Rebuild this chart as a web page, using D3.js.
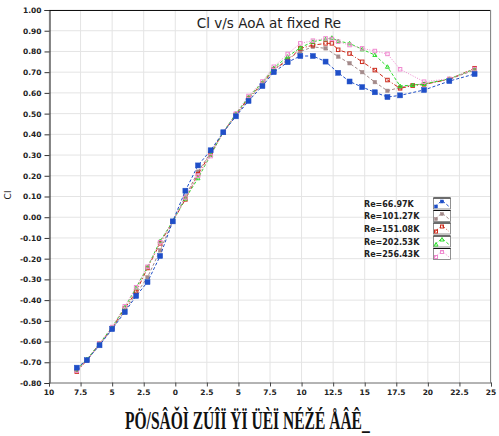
<!DOCTYPE html>
<html><head><meta charset="utf-8">
<script src="https://cdn.jsdelivr.net/npm/d3@7"></script>
<style>body{margin:0;background:#fff}svg{display:block}</style>
</head><body>
<script>
const aoa = [-7.8,-7.0,-6.0,-5.0,-4.0,-3.1,-2.2,-1.2,-0.2,0.8,1.8,2.8,3.8,4.8,5.8,6.9,7.8,8.9,9.9,10.9,11.9,12.4,12.9,13.8,14.8,15.8,16.8,17.8,18.8,19.7,21.7,23.7];
const clRe66  = [-0.726,-0.69,-0.618,-0.54,-0.458,-0.38,-0.313,-0.187,-0.02,0.128,0.25,0.323,0.41,0.487,0.561,0.633,0.70,0.748,0.778,0.778,0.751,null,0.697,0.655,0.628,0.603,0.58,0.588,null,0.614,0.657,0.691];
const clRe101 = [-0.74,-0.69,-0.615,-0.54,-0.45,-0.37,-0.29,-0.16,-0.02,0.10,0.22,0.31,0.41,0.49,0.57,0.64,0.71,0.765,0.80,0.822,0.815,null,0.775,0.743,0.70,0.652,0.61,0.626,0.638,0.643,0.666,0.71];
const clRe151 = [-0.745,-0.69,-0.61,-0.535,-0.44,-0.36,-0.245,-0.126,-0.02,0.086,0.208,0.308,0.41,0.495,0.575,0.645,0.714,0.755,0.815,0.83,0.839,0.839,0.808,0.79,0.75,0.71,0.662,0.622,0.635,0.641,0.665,0.719];
const clRe202 = [-0.735,-0.685,-0.61,-0.53,-0.435,-0.34,-0.24,-0.115,-0.02,0.09,0.188,0.30,0.41,0.50,0.58,0.65,0.72,0.775,0.818,0.847,0.859,0.866,0.85,0.839,0.81,0.783,0.726,0.633,0.638,0.643,0.668,0.715];
const clRe256 = [-0.74,-0.69,-0.61,-0.53,-0.43,-0.338,-0.239,-0.12,-0.02,0.095,0.20,0.295,0.41,0.50,0.585,0.655,0.726,0.788,0.839,0.852,0.863,0.86,0.847,0.831,0.815,0.802,0.788,0.714,null,0.654,0.668,0.715];
const seriesNames = ["Re=66.97K","Re=101.27K","Re=151.08K","Re=202.53K","Re=256.43K"];
const xTickValues = [-10,-7.5,-5,-2.5,0,2.5,5,7.5,10,12.5,15,17.5,20,22.5,25];
const xTickLabels = ["10","7.5","5","2.5","0","2.5","5","7.5","10","12.5","15","17.5","20","22.5","25"];
const yTickValues = [1.0,0.9,0.8,0.7,0.6,0.5,0.4,0.3,0.2,0.1,0.0,-0.1,-0.2,-0.3,-0.4,-0.5,-0.6,-0.7,-0.8];

const styles = [
  {color:"#1f4fc8", dash:"3,2", marker:"square", fill:true, size:5},
  {color:"#a38a8a", dash:"3,2", marker:"square", fill:true, size:3.5},
  {color:"#cc2a1c", dash:"4,2,1,2", marker:"square", fill:false, size:3.5},
  {color:"#2ddc2d", dash:"3,2", marker:"triangle", fill:false, size:3},
  {color:"#f08ad0", dash:"1,1.5", marker:"square", fill:false, size:3.5}
];
const allCl = [clRe66, clRe101, clRe151, clRe202, clRe256];

const W = 499, H = 436;
const svg = d3.select("body").append("svg").attr("width", W).attr("height", H);
const x = d3.scaleLinear().domain([-10, 25]).range([49, 491]);
const y = d3.scaleLinear().domain([-0.8, 1.0]).range([383, 10]);

// grid
const g = svg.append("g");
g.selectAll(".vg").data(xTickValues).join("line")
  .attr("x1", d => x(d)).attr("x2", d => x(d)).attr("y1", y(1)).attr("y2", y(-0.8))
  .attr("stroke", "#e4e4e4").attr("stroke-width", 1);
g.selectAll(".hg").data(yTickValues).join("line")
  .attr("x1", x(-10)).attr("x2", x(25)).attr("y1", d => y(d)).attr("y2", d => y(d))
  .attr("stroke", "#e4e4e4").attr("stroke-width", 1);

// frame
svg.append("line").attr("x1", x(-10)).attr("x2", x(25)).attr("y1", y(1)+0.5).attr("y2", y(1)+0.5).attr("stroke", "#111");
svg.append("line").attr("x1", x(25)-0.5).attr("x2", x(25)-0.5).attr("y1", y(1)).attr("y2", y(-0.8)).attr("stroke", "#888");

// axes
const yAxis = d3.axisLeft(y).tickValues(yTickValues).tickSize(5).tickPadding(3)
  .tickFormat(d => d3.format(".2f")(d).replace("−","-"));
const ya = svg.append("g").attr("transform", `translate(${x(-10)+0.5},0)`).call(yAxis);
ya.select(".domain").attr("stroke", "#111");
ya.selectAll(".tick line").attr("stroke", "#333");
ya.selectAll("text").attr("font-family", "DejaVu Sans").attr("font-weight", "bold").attr("font-size", 7.5).attr("fill", "#222");

const xAxis = d3.axisBottom(x).tickValues(xTickValues).tickSize(4).tickFormat("");
const xa = svg.append("g").attr("transform", `translate(0,${y(-0.8)-0.5})`).call(xAxis);
xa.select(".domain").attr("stroke", "#777");
xa.selectAll(".tick line").attr("stroke", "#444");
svg.append("g").selectAll("text").data(xTickValues).join("text")
  .attr("x", d => x(d)).attr("y", 395).attr("text-anchor", "middle")
  .attr("font-family", "DejaVu Sans").attr("font-weight", "bold").attr("font-size", 7.5).attr("fill", "#222")
  .text((d, i) => xTickLabels[i]);

// series
function drawMarker(sel, st, px, py) {
  const s = st.size;
  if (st.marker === "square") {
    sel.append("rect").attr("x", px - s/2).attr("y", py - s/2).attr("width", s).attr("height", s)
      .attr("fill", st.fill ? st.color : "none").attr("stroke", st.color).attr("stroke-width", st.fill ? 0.5 : 1);
  } else {
    sel.append("path").attr("d", `M${px},${py-s/2-0.5}L${px+s/2+0.5},${py+s/2}L${px-s/2-0.5},${py+s/2}Z`)
      .attr("fill", "none").attr("stroke", st.color).attr("stroke-width", 1);
  }
}
const line = d3.line().x(d => x(d[0])).y(d => y(d[1]));
[1,2,3,4,0].forEach(si => {
  const st = styles[si];
  const pts = aoa.map((a, i) => [a, allCl[si][i]]).filter(p => p[1] !== null);
  const sg = svg.append("g");
  sg.append("path").attr("d", line(pts)).attr("fill", "none").attr("stroke", st.color)
    .attr("stroke-width", 1).attr("stroke-dasharray", st.dash);
  pts.forEach(p => drawMarker(sg, st, x(p[0]), y(p[1])));
});

// title
svg.append("text").attr("x", 269).attr("y", 28).attr("text-anchor", "middle")
  .attr("font-family", "DejaVu Sans").attr("font-size", 13.5).attr("fill", "#222")
  .text("Cl v/s AoA at fixed Re");

// y label
svg.append("text").attr("transform", "translate(11,195) rotate(-90)").attr("text-anchor", "middle")
  .attr("font-family", "DejaVu Sans").attr("font-size", 9).attr("fill", "#222").text("Cl");

// legend
const legY = [203.5, 216, 228.5, 241.5, 254];
seriesNames.forEach((name, i) => {
  const st = styles[i];
  const lg = svg.append("g");
  lg.append("text").attr("x", 364).attr("y", legY[i] + 3).attr("font-family", "DejaVu Sans")
    .attr("font-weight", "bold").attr("font-size", 8).attr("fill", "#222").text(name);
  lg.append("rect").attr("x", 433.5).attr("y", legY[i] - 5.5).attr("width", 17).attr("height", 11)
    .attr("fill", "#fff").attr("stroke", "#777").attr("stroke-width", 0.8);
  lg.append("line").attr("x1", 433.5).attr("x2", 450.5).attr("y1", legY[i] - 5.5).attr("y2", legY[i] - 5.5).attr("stroke", "#111");
  const bx = 435, ex = 449, by = legY[i] + 3, ty = legY[i] - 3;
  lg.append("path").attr("d", `M${bx},${by}L${(bx+ex)/2},${ty}L${ex},${by}`).attr("fill", "none")
    .attr("stroke", st.color).attr("stroke-width", 1).attr("stroke-dasharray", st.dash);
  drawMarker(lg, Object.assign({}, st, {size: 3}), bx + 1, by);
  drawMarker(lg, Object.assign({}, st, {size: 3}), (bx+ex)/2, ty + 1);
});

// bottom garbled caption (as shown in the reference), condensed horizontally
const cap = svg.append("text").attr("x", 0).attr("y", 0)
  .attr("font-family", "Liberation Serif").attr("font-weight", "bold").attr("font-size", 25).attr("fill", "#111")
  .text("PÖ/SÂǑÌ ZÚÎÏ ŸÏ ÜÈÏ NÉŽÉ ÅÂÊ_");
const natW = cap.node().getComputedTextLength() || 400;
cap.attr("transform", `translate(125,429) scale(${245 / natW},1)`);
</script>
</body></html>
